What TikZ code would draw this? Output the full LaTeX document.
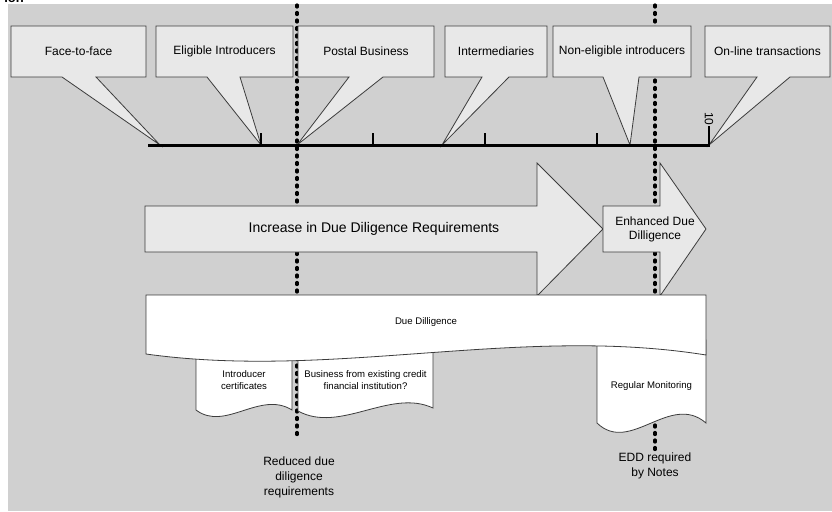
\documentclass[tikz,border=0pt]{standalone}
\usepackage{fontspec}
\setmainfont{Liberation Sans}
\definecolor{bggray}{RGB}{208,208,208}
\definecolor{boxgray}{RGB}{232,232,232}
\definecolor{edgegray}{RGB}{60,60,60}
\begin{document}
\begin{tikzpicture}[x=1pt,y=-1pt,
  callout/.style={fill=boxgray,draw=edgegray,line width=0.8pt,line join=miter},
  arrowshape/.style={fill=boxgray,draw=edgegray,line width=0.8pt,line join=miter},
  docshape/.style={fill=white,draw=edgegray,line width=0.8pt,line join=miter},
  vline/.style={line width=3.2pt,dash pattern=on 2pt off 5.5pt,line cap=round},
  axisline/.style={line width=3pt},
  tickmark/.style={line width=2.5pt},
  lbl/.style={font=\fontsize{12}{14}\selectfont,align=center,inner sep=0pt},
  bigl/.style={font=\fontsize{14}{16}\selectfont,align=center,inner sep=0pt},
  smalll/.style={font=\fontsize{9.6}{12.5}\selectfont,align=center,inner sep=0pt},
  notel/.style={font=\fontsize{12}{15}\selectfont,align=center,inner sep=0pt}]
\clip (0,0) rectangle (832,511);
\fill[white] (0,0) rectangle (832,511);
\fill[bggray] (8,4) rectangle (832,511);
\node[font=\bfseries\fontsize{13}{13}\selectfont,anchor=base east,inner sep=0pt] (cut) at (24,3) {ion};

% dotted separators (behind everything)
\coordinate (d1top) at (297,5);
\coordinate (d1bot) at (297,436);
\coordinate (d2top) at (655,5);
\coordinate (d2bot) at (655,451);
\draw[vline] (d1top) -- (d1bot);
\draw[vline] (d2top) -- (d2bot);

% points on the axis
\coordinate (tA) at (160,145);
\coordinate (tB) at (261,145);
\coordinate (tC) at (297,145);
\coordinate (tD) at (442,145);
\coordinate (tE) at (630,145);
\coordinate (tF) at (709,145);

% callouts
\filldraw[callout] (11,26) -- (146,26) -- (146,77) -- (96,77) -- (tA) -- (62,77) -- (11,77) -- cycle;
\node[lbl] (ff) at (78.5,51.5) {Face-to-face};
\filldraw[callout] (156,26) -- (293,26) -- (293,77) -- (240,77) -- (tB) -- (207,77) -- (156,77) -- cycle;
\node[lbl] (ei) at (224.5,51.5) {Eligible Introducers};
\filldraw[callout] (298,26) -- (434,26) -- (434,77) -- (383,77) -- (tC) -- (349,77) -- (298,77) -- cycle;
\node[lbl] (pb) at (366,51.5) {Postal Business};
\filldraw[callout] (445,26) -- (547,26) -- (547,77) -- (509,77) -- (tD) -- (482,77) -- (445,77) -- cycle;
\node[lbl] (im) at (496,51.5) {Intermediaries};
\filldraw[callout] (553,26) -- (691,26) -- (691,77) -- (639,77) -- (tE) -- (603,77) -- (553,77) -- cycle;
\node[lbl] (ne) at (622,51.5) {Non-eligible introducers};
\filldraw[callout] (705,26) -- (830,26) -- (830,77) -- (790,77) -- (tF) -- (757,77) -- (705,77) -- cycle;
\node[lbl] (ol) at (767.5,51.5) {On-line transactions};

% axis with ticks
\coordinate (axL) at (148,145);
\coordinate (axR) at (710,145);
\draw[axisline] (axL) -- (axR);
\draw[tickmark] (tB) -- ++(0,-12);
\draw[tickmark] (373,145) -- ++(0,-12);
\draw[tickmark] (485,145) -- ++(0,-12);
\draw[tickmark] (597,145) -- ++(0,-12);
\draw[tickmark] (tF) -- ++(0,-19);
\node[lbl,rotate=-90] (ten) at (709,119) {10};

% arrows
\filldraw[arrowshape] (145,206) -- (537,206) -- (537,163) -- (603,229) -- (537,296) -- (537,252) -- (145,252) -- cycle;
\node[bigl] (inc) at (374,229) {Increase in Due Diligence Requirements};
\filldraw[arrowshape] (603,206) -- (660,206) -- (660,163) -- (706,229) -- (660,296) -- (660,252) -- (603,252) -- cycle;
\node[lbl] (edd) at (655,229) {Enhanced Due\\Dilligence};

% documents hanging below
\filldraw[docshape] (196,340) -- (292,340) -- (292,410) .. controls (260,390) and (225,432) .. (196,410) -- cycle;
\node[smalll] (ic) at (244,380) {Introducer\\certificates};
\filldraw[docshape] (298,340) -- (433,340) -- (433,408) .. controls (390,388) and (340,434) .. (298,411) -- cycle;
\node[smalll] (bf) at (365.5,380) {Business from existing credit\\financial institution?};
\filldraw[docshape] (597,340) -- (706,340) -- (706,423) .. controls (670,392) and (630,455) .. (597,423) -- cycle;
\node[smalll] (rm) at (651.5,386) {Regular Monitoring};

% due diligence band
\filldraw[docshape] (146,295) -- (706,295) -- (706,355) .. controls (519,325) and (333,380) .. (146,354) -- cycle;
\node[smalll] (dd) at (426,322) {Due Dilligence};

% captions under the separators
\node[notel] (rdd) at (299,477) {Reduced due\\diligence\\requirements};
\node[notel] (ednote) at (655,466) {EDD required\\by Notes};
\end{tikzpicture}
\end{document}
